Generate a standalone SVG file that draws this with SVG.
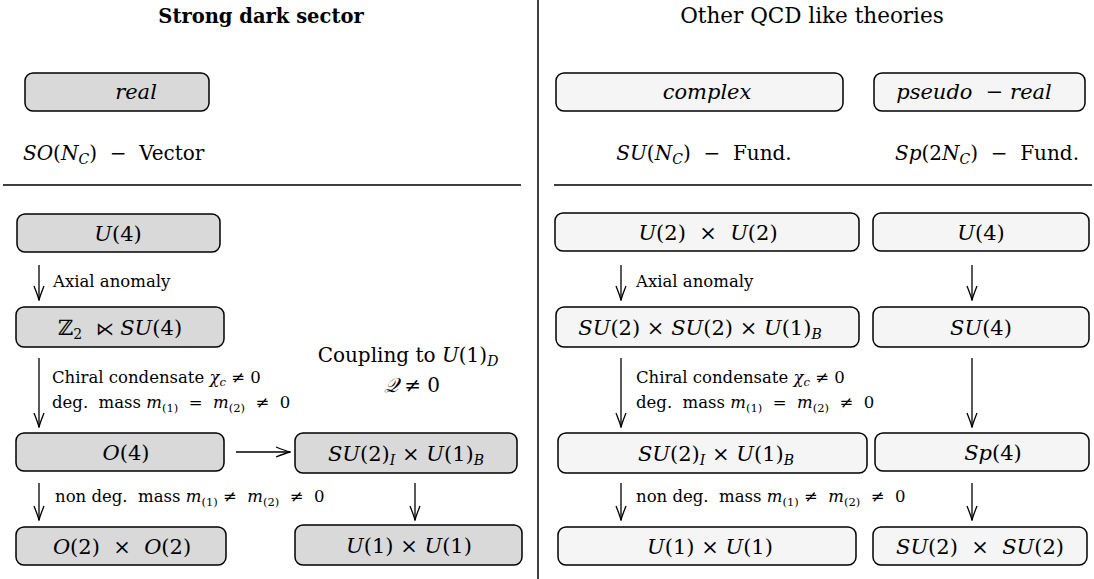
<svg xmlns="http://www.w3.org/2000/svg" width="1094" height="579" viewBox="0 0 1094 579" font-family="'DejaVu Serif', 'Liberation Serif', serif">
<style>
.bd{fill:#d9d9d9;stroke:#000;stroke-width:1.5}
.bl{fill:#f5f5f5;stroke:#000;stroke-width:1.5}
text{font-family:'DejaVu Serif','Liberation Serif',serif;fill:#000}
.m{font-size:21px;text-anchor:middle}
.lb{font-size:16.5px}
.ti{font-size:20px;text-anchor:middle}
.i{font-style:italic}
.s{font-size:14px}
.ss{font-size:11.5px}
.op{font-size:18px}
.rule{stroke:#000;stroke-width:1.5}
.c{stroke:#000;stroke-width:1.3;fill:none;marker-end:url(#arr)}
</style>
<defs>
<marker id="arr" viewBox="-15 -6 16 12" refX="0" refY="0" markerWidth="16" markerHeight="12" markerUnits="userSpaceOnUse" orient="auto">
<path d="M-14,-5 Q-5,-1.4 0,0 Q-5,1.4 -14,5" fill="none" stroke="#000" stroke-width="1.3"/>
</marker>
</defs>
<rect width="1094" height="579" fill="#fff"/>

<g id="layout">
<line class="rule" x1="538" y1="0" x2="538" y2="579"/>
<line class="rule" x1="3" y1="185" x2="521" y2="185"/>
<line class="rule" x1="554" y1="185" x2="1092" y2="185"/>
<text class="ti" x="261" y="23" font-weight="bold" style="font-size:19.5px">Strong dark sector</text>
<text class="ti" x="812" y="23" style="font-size:21.5px">Other QCD like theories</text>
<text style="font-size:20px" x="23" y="160"><tspan class="i">SO</tspan>(<tspan class="i">N</tspan><tspan class="i s" dy="4">C</tspan><tspan dy="-4">)&#160;&#160;−&#160;&#160;Vector</tspan></text>
<text class="ti" x="704" y="160"><tspan class="i">SU</tspan>(<tspan class="i">N</tspan><tspan class="i s" dy="4">C</tspan><tspan dy="-4">)&#160;&#160;−&#160;&#160;Fund.</tspan></text>
<text class="ti" x="987" y="160"><tspan class="i">Sp</tspan>(2<tspan class="i">N</tspan><tspan class="i s" dy="4">C</tspan><tspan dy="-4">)&#160;&#160;−&#160;&#160;Fund.</tspan></text>
<text class="ti" x="408" y="362">Coupling to <tspan class="i">U</tspan>(1)<tspan class="i s" dy="4">D</tspan></text>
<text class="ti" x="412" y="392"><tspan class="i">𝒬</tspan>&#160;≠&#160;0</text>
</g>

<g id="real"><rect class="bd" x="25" y="73" width="184" height="38" rx="8"/><text class="m i" x="136" y="99">real</text></g>
<g id="complex"><rect class="bl" x="556" y="73" width="287" height="38" rx="8"/><text class="m i" x="707" y="99">complex</text></g>
<g id="pseudoreal"><rect class="bl" x="874" y="73" width="211" height="38" rx="8"/><text class="m" x="974" y="99"><tspan class="i">pseudo</tspan>&#160;&#160;− <tspan class="i">real</tspan></text></g>

<g id="L_U4"><rect class="bd" x="17" y="214" width="203" height="38" rx="8"/><text class="m" x="118" y="241"><tspan class="i">U</tspan>(4)</text></g>
<g id="L_Z2SU4"><rect class="bd" x="16" y="307" width="208" height="40" rx="8"/><text class="m" x="120" y="335">ℤ<tspan class="s" dy="4">2</tspan><tspan dy="-4">&#160;&#160;</tspan><tspan class="op">⋉</tspan>&#160;<tspan class="i">SU</tspan>(4)</text></g>
<g id="L_O4"><rect class="bd" x="16" y="433" width="208" height="38" rx="8"/><text class="m" x="126" y="460"><tspan class="i">O</tspan>(4)</text></g>
<g id="L_O2O2"><rect class="bd" x="16" y="527" width="210" height="38" rx="8"/><text class="m" x="122" y="554"><tspan class="i">O</tspan>(2)&#160;&#160;×&#160;&#160;<tspan class="i">O</tspan>(2)</text></g>
<g id="L_SU2U1"><rect class="bd" x="295" y="433" width="222" height="40" rx="8"/><text class="m" x="406" y="461"><tspan class="i">SU</tspan>(2)<tspan class="i s" dy="4">I</tspan><tspan dy="-4">&#160;×&#160;</tspan><tspan class="i">U</tspan>(1)<tspan class="i s" dy="4">B</tspan></text></g>
<g id="L_U1U1"><rect class="bd" x="295" y="525" width="227" height="40" rx="8"/><text class="m" x="409" y="553"><tspan class="i">U</tspan>(1)&#160;×&#160;<tspan class="i">U</tspan>(1)</text></g>

<g id="R_U2U2"><rect class="bl" x="555" y="213" width="304" height="38" rx="8"/><text class="m" x="708" y="240"><tspan class="i">U</tspan>(2)&#160;&#160;×&#160;&#160;<tspan class="i">U</tspan>(2)</text></g>
<g id="R_U4"><rect class="bl" x="873" y="213" width="216" height="38" rx="8"/><text class="m" x="981" y="240"><tspan class="i">U</tspan>(4)</text></g>
<g id="R_SU2SU2U1"><rect class="bl" x="556" y="307" width="303" height="40" rx="8"/><text class="m" x="700" y="335"><tspan class="i">SU</tspan>(2)&#160;×&#160;<tspan class="i">SU</tspan>(2)&#160;×&#160;<tspan class="i">U</tspan>(1)<tspan class="i s" dy="4">B</tspan></text></g>
<g id="R_SU4"><rect class="bl" x="873" y="307" width="216" height="40" rx="8"/><text class="m" x="981" y="335"><tspan class="i">SU</tspan>(4)</text></g>
<g id="R_SU2U1"><rect class="bl" x="558" y="433" width="309" height="40" rx="8"/><text class="m" x="716" y="461"><tspan class="i">SU</tspan>(2)<tspan class="i s" dy="4">I</tspan><tspan dy="-4">&#160;×&#160;</tspan><tspan class="i">U</tspan>(1)<tspan class="i s" dy="4">B</tspan></text></g>
<g id="R_Sp4"><rect class="bl" x="875" y="433" width="214" height="38" rx="8"/><text class="m" x="993" y="460"><tspan class="i">Sp</tspan>(4)</text></g>
<g id="R_U1U1"><rect class="bl" x="558" y="527" width="298" height="38" rx="8"/><text class="m" x="710" y="554"><tspan class="i">U</tspan>(1)&#160;×&#160;<tspan class="i">U</tspan>(1)</text></g>
<g id="R_SU2SU2"><rect class="bl" x="873" y="527" width="214" height="38" rx="8"/><text class="m" x="980" y="554"><tspan class="i">SU</tspan>(2)&#160;&#160;×&#160;&#160;<tspan class="i">SU</tspan>(2)</text></g>

<g id="connectors">
<path class="c" d="M39,265 V300"/>
<path class="c" d="M39,358 V427"/>
<path class="c" d="M39,483 V520"/>
<path class="c" d="M236,452 H290"/>
<path class="c" d="M415,483 V520"/>
<path class="c" d="M621,265 V300"/>
<path class="c" d="M621,358 V427"/>
<path class="c" d="M621,483 V520"/>
<path class="c" d="M972,265 V300"/>
<path class="c" d="M972,358 V427"/>
<path class="c" d="M972,483 V520"/>
<text class="lb" x="53" y="287">Axial anomaly</text>
<text class="lb" x="52" y="383">Chiral condensate <tspan class="i">χ</tspan><tspan class="i ss" dy="3">c</tspan><tspan dy="-3">&#160;≠&#160;0</tspan></text>
<text class="lb" x="52" y="408">deg.&#160; mass <tspan class="i">m</tspan><tspan class="ss" dy="4">(1)</tspan><tspan dy="-4">&#160;&#160;=&#160;&#160;</tspan><tspan class="i">m</tspan><tspan class="ss" dy="4">(2)</tspan><tspan dy="-4">&#160;&#160;≠&#160;&#160;0</tspan></text>
<text class="lb" x="55" y="502">non deg.&#160; mass <tspan class="i">m</tspan><tspan class="ss" dy="4">(1)</tspan><tspan dy="-4">&#160;≠&#160;&#160;</tspan><tspan class="i">m</tspan><tspan class="ss" dy="4">(2)</tspan><tspan dy="-4">&#160;&#160;≠&#160;&#160;0</tspan></text>
<text class="lb" x="636" y="287">Axial anomaly</text>
<text class="lb" x="636" y="383">Chiral condensate <tspan class="i">χ</tspan><tspan class="i ss" dy="3">c</tspan><tspan dy="-3">&#160;≠&#160;0</tspan></text>
<text class="lb" x="636" y="408">deg.&#160; mass <tspan class="i">m</tspan><tspan class="ss" dy="4">(1)</tspan><tspan dy="-4">&#160;&#160;=&#160;&#160;</tspan><tspan class="i">m</tspan><tspan class="ss" dy="4">(2)</tspan><tspan dy="-4">&#160;&#160;≠&#160;&#160;0</tspan></text>
<text class="lb" x="636" y="502">non deg.&#160; mass <tspan class="i">m</tspan><tspan class="ss" dy="4">(1)</tspan><tspan dy="-4">&#160;≠&#160;&#160;</tspan><tspan class="i">m</tspan><tspan class="ss" dy="4">(2)</tspan><tspan dy="-4">&#160;&#160;≠&#160;&#160;0</tspan></text>
</g>
</svg>
